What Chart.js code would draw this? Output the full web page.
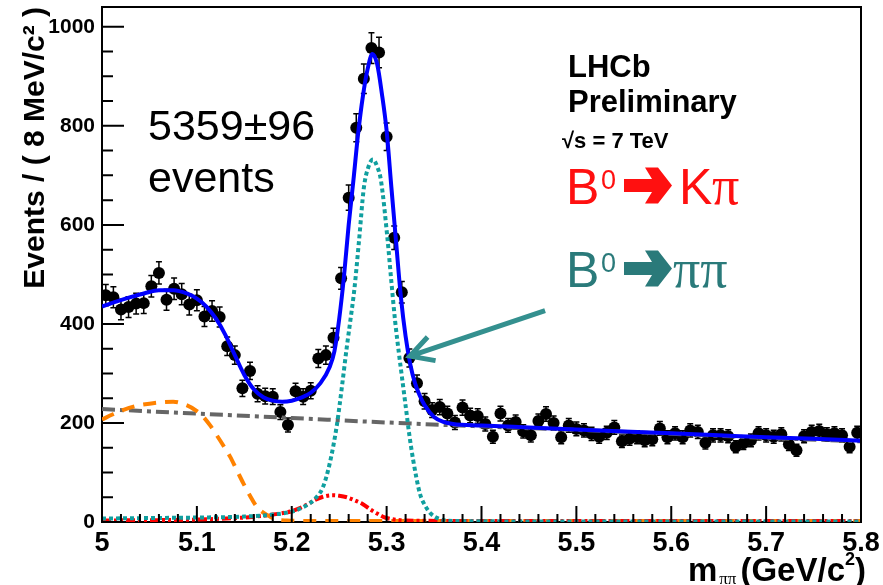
<!DOCTYPE html>
<html>
<head>
<meta charset="utf-8">
<script src="https://cdn.jsdelivr.net/npm/chart.js@4.4.1/dist/chart.umd.min.js"></script>
<style>
  html, body { margin: 0; padding: 0; background: #fff; }
  #wrap { width: 883px; height: 585px; }
</style>
</head>
<body>
<div id="wrap"><canvas id="massChart" width="883" height="585"></canvas></div>
<script>
// histogram: bin centres (8 MeV bins) and event counts
const massBins = [5.004, 5.012, 5.020, 5.028, 5.036, 5.044, 5.052, 5.060, 5.068, 5.076,
  5.084, 5.092, 5.100, 5.108, 5.116, 5.124, 5.132, 5.140, 5.148, 5.156,
  5.164, 5.172, 5.180, 5.188, 5.196, 5.204, 5.212, 5.220, 5.228, 5.236,
  5.244, 5.252, 5.260, 5.268, 5.276, 5.284, 5.292, 5.300, 5.308, 5.316,
  5.324, 5.332, 5.340, 5.348, 5.356, 5.364, 5.372, 5.380, 5.388, 5.396,
  5.404, 5.412, 5.420, 5.428, 5.436, 5.444, 5.452, 5.460, 5.468, 5.476,
  5.484, 5.492, 5.500, 5.508, 5.516, 5.524, 5.532, 5.540, 5.548, 5.556,
  5.564, 5.572, 5.580, 5.588, 5.596, 5.604, 5.612, 5.620, 5.628, 5.636,
  5.644, 5.652, 5.660, 5.668, 5.676, 5.684, 5.692, 5.700, 5.708, 5.716,
  5.724, 5.732, 5.740, 5.748, 5.756, 5.764, 5.772, 5.780, 5.788, 5.796];
const eventCounts = [458, 454, 429, 434, 441, 442, 476, 503, 449, 471,
  460, 439, 448, 415, 426, 414, 355, 337, 270, 305,
  259, 254, 253, 222, 196, 264, 253, 265, 330, 337,
  372, 492, 655, 796, 895, 957, 948, 778, 574, 464,
  331, 280, 244, 226, 232, 219, 201, 231, 215, 214,
  198, 172, 219, 195, 202, 183, 175, 204, 218, 200,
  171, 195, 188, 185, 178, 172, 180, 191, 163, 168,
  171, 165, 167, 189, 171, 179, 171, 185, 182, 160,
  175, 175, 173, 152, 159, 165, 179, 175, 172, 177,
  157, 145, 173, 182, 184, 177, 179, 175, 152, 180];

const xTickLabels = ['5', '5.1', '5.2', '5.3', '5.4', '5.5', '5.6', '5.7', '5.8'];
const yTickLabels = ['0', '200', '400', '600', '800', '1000'];

// fit components
const totalFitX = [5.000, 5.015, 5.030, 5.045, 5.060, 5.075, 5.090, 5.100, 5.110, 5.120,
  5.130, 5.140, 5.150, 5.160, 5.170, 5.180, 5.190, 5.200, 5.210, 5.220,
  5.230, 5.240, 5.245, 5.250, 5.255, 5.260, 5.265, 5.270, 5.275, 5.280,
  5.285, 5.290, 5.295, 5.300, 5.305, 5.310, 5.315, 5.320, 5.325, 5.330,
  5.335, 5.340, 5.350, 5.360, 5.370, 5.400, 5.450, 5.500, 5.550, 5.600,
  5.650, 5.700, 5.750, 5.800];
const totalFitY = [435, 445, 454, 462, 468, 468, 461, 451, 435, 411,
  378, 337, 297, 268, 252, 245, 243, 245, 251, 261,
  280, 313, 345, 410, 495, 600, 690, 785, 860, 915,
  945, 925, 865, 790, 676, 565, 455, 375, 318, 280,
  255, 236, 212, 202, 198, 195, 191, 187, 183, 179,
  175, 171, 168, 164];

const pipiX = [5.000, 5.050, 5.100, 5.150, 5.180, 5.200, 5.215, 5.225, 5.233, 5.240,
  5.2475, 5.253, 5.258, 5.262, 5.266, 5.271, 5.276, 5.281, 5.2855, 5.290,
  5.294, 5.301, 5.305, 5.309, 5.313, 5.316, 5.320, 5.324, 5.328, 5.335,
  5.340, 5.346, 5.356, 5.370, 5.500, 5.800];
const pipiY = [7, 8, 9, 11, 15, 21, 33, 48, 71, 118,
  195, 275, 353, 410, 470, 570, 675, 718, 732, 718,
  690, 570, 485, 405, 340, 295, 235, 175, 125, 58,
  35, 18, 6, 2, 1, 1];

const kpiX = [5.000, 5.100, 5.150, 5.180, 5.200, 5.215, 5.225, 5.233, 5.243, 5.250,
  5.258, 5.266, 5.275, 5.283, 5.290, 5.297, 5.305, 5.320, 5.400, 5.800];
const kpiY = [3, 5, 9, 15, 22, 34, 45, 51, 54, 53,
  50, 44, 36, 25, 17, 10, 6, 3, 2, 2];

const partRecoX = [5.000, 5.011, 5.022, 5.035, 5.050, 5.063, 5.075, 5.089, 5.100, 5.107,
  5.114, 5.121, 5.128, 5.135, 5.142, 5.149, 5.156, 5.163, 5.170, 5.177,
  5.184, 5.195, 5.220, 5.300, 5.800];
const partRecoY = [207, 217, 226, 234, 239, 242, 243, 236, 224, 212,
  195, 175, 154, 132, 105, 78, 53, 31, 19, 11,
  5, 3, 2, 2, 2];

const combX = [5.0, 5.1, 5.2, 5.3, 5.4, 5.5, 5.6, 5.7, 5.8];
const combY = [228, 219, 210, 201, 193, 186, 178, 170, 163];

// pointer arrow, in data coordinates (tail, tip)
const pointerFrom = [5.467, 427];
const pointerTo = [5.3246, 335];

function toXY(xs, ys) {
  return xs.map((x, i) => ({ x: x, y: ys[i] }));
}

const SANS = '"Liberation Sans", Arial, Helvetica, sans-serif';
const SERIF = '"Liberation Serif", "Times New Roman", serif';

function heavyArrow(ctx, x, y, color) {
  // thick arrow glyph used in the decay labels, (x,y) = left end of shaft centre
  ctx.save();
  ctx.fillStyle = color;
  ctx.beginPath();
  ctx.moveTo(x, y - 6.5);
  ctx.lineTo(x + 28, y - 6.5);
  ctx.lineTo(x + 21, y - 18);
  ctx.lineTo(x + 34, y - 18);
  ctx.lineTo(x + 48, y);
  ctx.lineTo(x + 34, y + 18);
  ctx.lineTo(x + 21, y + 18);
  ctx.lineTo(x + 28, y + 6.5);
  ctx.lineTo(x, y + 6.5);
  ctx.closePath();
  ctx.fill();
  ctx.restore();
}

const rootStyle = {
  id: 'rootStyle',
  beforeDatasetsDraw(chart) {
    // poisson error bars under the markers
    const ctx = chart.ctx, xs = chart.scales.x, ys = chart.scales.y;
    ctx.save();
    ctx.strokeStyle = '#000';
    ctx.lineWidth = 1.5;
    massBins.forEach((m, i) => {
      const err = Math.sqrt(eventCounts[i]);
      const px = xs.getPixelForValue(m);
      const y1 = ys.getPixelForValue(eventCounts[i] + err);
      const y2 = ys.getPixelForValue(eventCounts[i] - err);
      ctx.beginPath();
      ctx.moveTo(px, y1); ctx.lineTo(px, y2);
      ctx.moveTo(px - 3, y1); ctx.lineTo(px + 3, y1);
      ctx.moveTo(px - 3, y2); ctx.lineTo(px + 3, y2);
      ctx.stroke();
    });
    ctx.restore();
  },
  afterDatasetsDraw(chart) {
    const ctx = chart.ctx, xs = chart.scales.x, ys = chart.scales.y;
    const a = chart.chartArea;
    ctx.save();
    // frame
    ctx.strokeStyle = '#000';
    ctx.lineWidth = 2;
    ctx.beginPath();
    ctx.moveTo(a.left, a.top); ctx.lineTo(a.right, a.top); ctx.lineTo(a.right, a.bottom);
    ctx.stroke();

    // inward ticks, ROOT style
    ctx.lineWidth = 2;
    ctx.beginPath();
    for (let k = 0; k <= 40; k++) {
      const v = 5 + k * 0.02;
      const px = xs.getPixelForValue(v);
      const len = (k % 5 === 0) ? 16 : 8;
      ctx.moveTo(px, a.bottom); ctx.lineTo(px, a.bottom - len);
    }
    for (let k = 0; k <= 20; k++) {
      const py = ys.getPixelForValue(k * 50);
      const len = (k % 4 === 0) ? 22 : 11;
      ctx.moveTo(a.left, py); ctx.lineTo(a.left + len, py);
    }
    ctx.stroke();

    // pointer arrow
    const tx = xs.getPixelForValue(pointerTo[0]), ty = ys.getPixelForValue(pointerTo[1]);
    const fx = xs.getPixelForValue(pointerFrom[0]), fy = ys.getPixelForValue(pointerFrom[1]);
    const ang = Math.atan2(fy - ty, fx - tx);
    ctx.strokeStyle = '#34908f';
    ctx.lineWidth = 5;
    ctx.lineCap = 'butt';
    ctx.beginPath();
    ctx.moveTo(fx, fy); ctx.lineTo(tx, ty);
    ctx.moveTo(tx + 26 * Math.cos(ang - 0.5), ty + 26 * Math.sin(ang - 0.5));
    ctx.lineTo(tx, ty);
    ctx.lineTo(tx + 26 * Math.cos(ang + 0.5), ty + 26 * Math.sin(ang + 0.5));
    ctx.stroke();
    ctx.restore();
  },
  afterDraw(chart) {
    const ctx = chart.ctx;
    ctx.save();
    ctx.fillStyle = '#000';
    ctx.textBaseline = 'alphabetic';

    // y title
    ctx.save();
    ctx.translate(44, 7);
    ctx.rotate(-Math.PI / 2);
    ctx.textAlign = 'right';
    ctx.font = 'bold 30px ' + SANS;
    ctx.fillText('Events / ( 8 MeV/c\u00b2 )', 0, 0);
    ctx.restore();

    // x title: m_pipi (GeV/c^2), right aligned
    ctx.textAlign = 'left';
    const big = 'bold 33px ' + SANS, sub = '17px ' + SERIF, sup = 'bold 18px ' + SANS;
    ctx.font = big; const wM = ctx.measureText('m').width;
    const wG = ctx.measureText('(GeV/c').width, wP = ctx.measureText(')').width;
    ctx.font = sub; const wS = ctx.measureText('\u03c0\u03c0').width;
    ctx.font = sup; const w2 = ctx.measureText('2').width;
    let x = 866 - (wM + 2 + wS + 4 + wG + w2 + wP);
    ctx.font = big; ctx.fillText('m', x, 581); x += wM + 2;
    ctx.font = sub; ctx.fillText('\u03c0\u03c0', x, 584); x += wS + 4;
    ctx.font = big; ctx.fillText('(GeV/c', x, 581); x += wG;
    ctx.font = sup; ctx.fillText('2', x, 565); x += w2;
    ctx.font = big; ctx.fillText(')', x, 581);

    // signal yield
    ctx.font = '43px ' + SANS;
    ctx.fillText('5359\u00b196', 148, 140);
    ctx.fillText('events', 148, 192);

    // LHCb label
    ctx.font = 'bold 31px ' + SANS;
    ctx.fillText('LHCb', 568, 77);
    ctx.fillText('Preliminary', 568, 112);
    ctx.font = 'bold 22px ' + SANS;
    ctx.fillText('\u221as = 7 TeV', 562, 148);

    // decay labels
    const red = '#ff1010', teal = '#2a7a7a';
    ctx.fillStyle = red;
    ctx.font = '50px ' + SANS; ctx.fillText('B', 566, 204);
    ctx.font = '27px ' + SANS; ctx.fillText('0', 601, 189);
    heavyArrow(ctx, 624, 185.5, red);
    ctx.fillStyle = red;
    ctx.font = '50px ' + SANS; ctx.fillText('K', 679, 204);
    ctx.font = '54px ' + SERIF; ctx.fillText('\u03c0', 712, 204);

    ctx.fillStyle = teal;
    ctx.font = '50px ' + SANS; ctx.fillText('B', 566, 287);
    ctx.font = '27px ' + SANS; ctx.fillText('0', 601, 272);
    heavyArrow(ctx, 624, 268.5, teal);
    ctx.fillStyle = teal;
    ctx.font = '54px ' + SERIF; ctx.fillText('\u03c0\u03c0', 673, 287);
    ctx.restore();
  }
};

const ctx = document.getElementById('massChart').getContext('2d');

new Chart(ctx, {
  type: 'scatter',
  data: {
    datasets: [
      { label: 'Total fit', data: toXY(totalFitX, totalFitY), showLine: true, borderColor: '#0000ff',
        borderWidth: 4, pointRadius: 0, cubicInterpolationMode: 'monotone', order: 0 },
      { label: 'B0 -> pipi', data: toXY(pipiX, pipiY), showLine: true, borderColor: '#109f9f',
        borderWidth: 4, borderDash: [4, 3], pointRadius: 0, cubicInterpolationMode: 'monotone', order: 1 },
      { label: 'B0 -> Kpi', data: toXY(kpiX, kpiY), showLine: true, borderColor: '#ff0000',
        borderWidth: 4, borderDash: [9, 3, 3, 3, 3, 3], pointRadius: 0, cubicInterpolationMode: 'monotone', order: 2 },
      { label: 'Partially reconstructed', data: toXY(partRecoX, partRecoY), showLine: true, borderColor: '#ff8200',
        borderWidth: 4, borderDash: [13, 9], pointRadius: 0, cubicInterpolationMode: 'monotone', order: 3 },
      { label: 'Combinatorial', data: toXY(combX, combY), showLine: true, borderColor: '#666666',
        borderWidth: 4, borderDash: [13, 5, 4, 5], pointRadius: 0, cubicInterpolationMode: 'monotone', order: 4 },
      { label: 'Data', data: toXY(massBins, eventCounts), backgroundColor: '#000', borderWidth: 0,
        pointRadius: 6, order: 10 }
    ]
  },
  options: {
    responsive: false,
    animation: false,
    devicePixelRatio: 1,
    layout: { padding: { left: 0, right: 22, top: 7, bottom: 0 } },
    plugins: { legend: { display: false }, tooltip: { enabled: false } },
    scales: {
      x: {
        type: 'linear', min: 5, max: 5.8,
        afterFit: s => { s.height = 63; s.paddingLeft = 0; s.paddingRight = 0; },
        afterBuildTicks: s => { s.ticks = xTickLabels.map(t => ({ value: parseFloat(t) })); },
        ticks: {
          callback: (v, i) => xTickLabels[i],
          font: { family: SANS, size: 27, weight: 'bold' }, color: '#000',
          padding: 5, maxRotation: 0, autoSkip: false
        },
        grid: { display: false, drawTicks: false },
        border: { display: true, color: '#000', width: 2 }
      },
      y: {
        min: 0, max: 1040,
        afterFit: s => { s.width = 102; s.paddingTop = 0; s.paddingBottom = 0; },
        afterBuildTicks: s => { s.ticks = yTickLabels.map(t => ({ value: parseFloat(t) })); },
        ticks: {
          callback: (v, i) => yTickLabels[i],
          font: { family: SANS, size: 21, weight: 'bold' }, color: '#000',
          padding: 7, autoSkip: false
        },
        grid: { display: false, drawTicks: false },
        border: { display: true, color: '#000', width: 2 }
      }
    }
  },
  plugins: [rootStyle]
});
</script>
</body>
</html>
